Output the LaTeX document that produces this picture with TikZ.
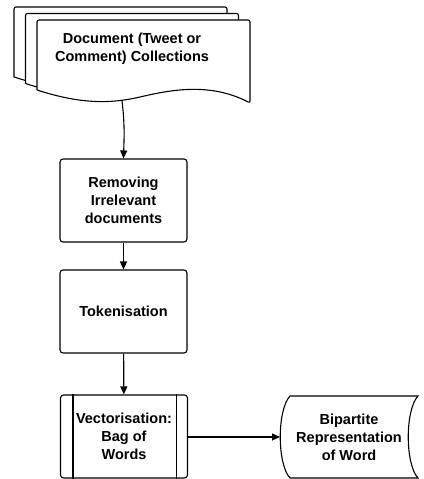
\documentclass[tikz,border=0pt]{standalone}
\usepackage{fontspec}
\setmainfont{Liberation Sans}
\usetikzlibrary{arrows.meta}
\begin{document}
\begin{tikzpicture}[x=1pt,y=-1pt,
  line width=1.1pt,
  txt/.style={font=\fontsize{14.5}{18}\selectfont\bfseries, align=center, inner sep=0pt},
  procbox/.style={draw, rounded corners=3pt, minimum width=127pt, minimum height=83pt, txt},
  flow/.style={-{Triangle[length=8pt,width=7pt]}},
  sheet/.style={draw, fill=white, rounded corners=2pt}
]
\useasboundingbox (0,0) rectangle (423,479);

% stacked document sheets, back to front
\foreach \dx/\dy in {-23/-13, -11.5/-6.5, 0/0} {
  \begin{scope}[shift={(\dx,\dy)}]
    \draw[sheet] (37,90) -- (37,20) -- (250,20) -- (250,103)
      [sharp corners] .. controls (210,82) and (170,90) .. (140,97)
      .. controls (110,104) and (80,104) .. (37,90);
  \end{scope}
}
\node[txt] (doc) at (132,49) {Document (Tweet or\\Comment) Collections};
\coordinate (docout) at (122,101);

% processing steps
\node[procbox] (rem) at (123.5,200.5) {Removing\\Irrelevant\\documents};
\node[procbox] (tok) at (123.5,311.5) {Tokenisation};
\node[procbox] (vec) at (124,436.5) {Vectorisation:\\Bag of\\Words};
\draw ([xshift=13pt]vec.north west) -- ([xshift=13pt]vec.south west);
\draw ([xshift=-12pt]vec.north east) -- ([xshift=-12pt]vec.south east);

% stored data
\node[txt, minimum width=138pt, minimum height=82pt] (bip) at (349,437) {Bipartite\\Representation\\of Word};
\draw (290,396) -- (418,396)
      .. controls (405,410) and (405,464) .. (418,478)
      -- (290,478)
      .. controls (277,464) and (277,410) .. (290,396) -- cycle;
\coordinate (bipin) at (280,437);

% connectors
\draw[flow] (docout) .. controls (125,125) and (124,140) .. (rem.north);
\draw[flow] (rem) -- (tok);
\draw[flow] (tok) -- (vec);
\draw[flow] (vec.east |- bipin) -- (bipin);
\end{tikzpicture}
\end{document}
